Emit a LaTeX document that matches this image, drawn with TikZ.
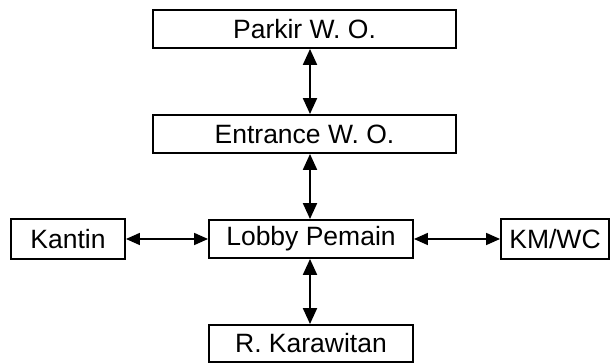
\documentclass[tikz,border=0pt]{standalone}
\usepackage{fontspec}
\setmainfont{Liberation Sans}
\usetikzlibrary{arrows.meta}
\begin{document}
\begin{tikzpicture}[x=1pt,y=1pt,
  roombox/.style={draw=black, line width=1.9pt, fill=white, rectangle,
    inner sep=0pt, font=\fontsize{26.5}{30}\selectfont},
  vlink/.style={line width=2.1pt, {Triangle[width=14pt,length=16pt]}-{Triangle[width=14pt,length=16pt]}},
  hlink/.style={line width=1.7pt, {Triangle[width=12pt,length=14pt]}-{Triangle[width=12pt,length=14pt]}}]
  \useasboundingbox (0,0) rectangle (611,363);
  % rooms
  \node[roombox, minimum width=303pt, minimum height=38pt] (parkir) at (304.5,334) {Parkir W. O.};
  \node[roombox, minimum width=303pt, minimum height=38pt] (entrance) at (304.5,229) {Entrance W. O.};
  \node[roombox, minimum width=204pt, minimum height=38pt] (lobby) at (311,124) {Lobby Pemain};
  \node[roombox, minimum width=114pt, minimum height=40pt] (kantin) at (68,124) {Kantin};
  \node[roombox, minimum width=108pt, minimum height=40pt] (kmwc) at (555,124) {KM/WC};
  \node[roombox, minimum width=204pt, minimum height=37pt] (karawitan) at (311,19.5) {R. Karawitan};
  % vertical axis of the links
  \coordinate (axis) at (310,0);
  % links
  \draw[vlink] (axis |- parkir.south) -- (axis |- entrance.north);
  \draw[vlink] (axis |- entrance.south) -- (axis |- lobby.north);
  \draw[vlink] (axis |- lobby.south) -- (axis |- karawitan.north);
  \draw[hlink] (kantin.east) -- (lobby.west);
  \draw[hlink] (lobby.east) -- (kmwc.west);
\end{tikzpicture}
\end{document}
